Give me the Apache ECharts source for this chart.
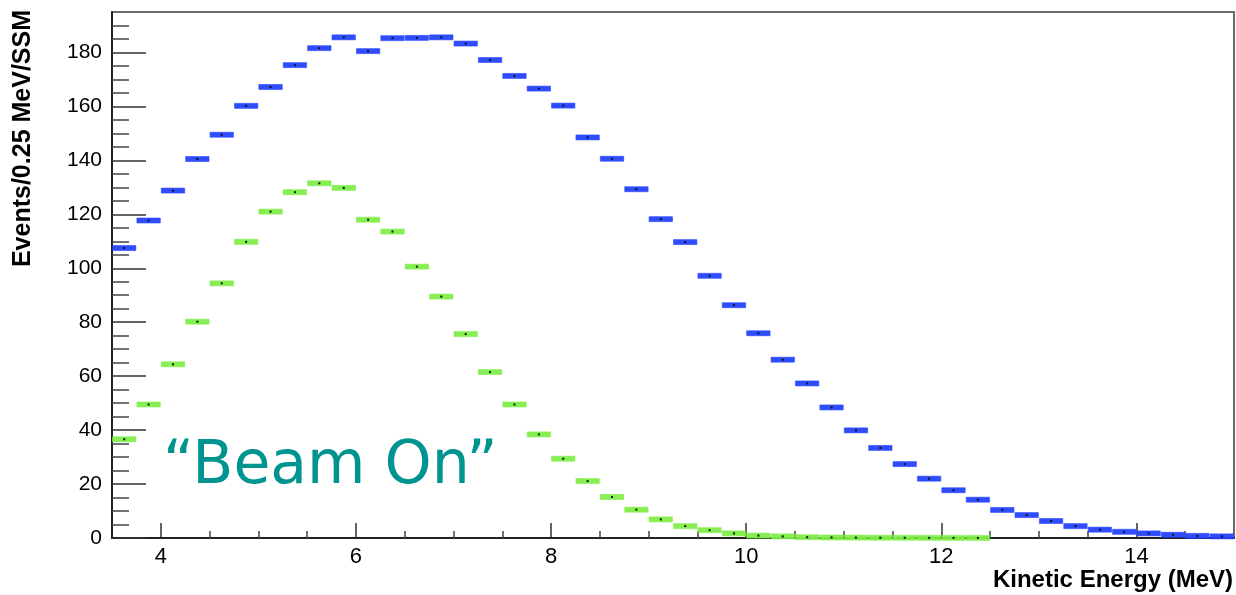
<!DOCTYPE html>
<html>
<head>
<meta charset="utf-8">
<script src="https://cdn.jsdelivr.net/npm/echarts@6/dist/echarts.min.js"></script>
<style>
html,body{margin:0;padding:0;background:#fff;}
#chart{width:1236px;height:595px;}
</style>
</head>
<body>
<div id="chart"></div>
<script>
// Bin low edges (0.25 MeV bins)
const binLow = [3.5,3.75,4.0,4.25,4.5,4.75,5.0,5.25,5.5,5.75,6.0,6.25,6.5,6.75,7.0,7.25,7.5,7.75,8.0,8.25,8.5,8.75,9.0,9.25,9.5,9.75,10.0,10.25,10.5,10.75,11.0,11.25,11.5,11.75,12.0,12.25,12.5,12.75,13.0,13.25,13.5,13.75,14.0,14.25,14.5,14.75];
const binWidth = 0.25;

// Blue histogram (total)
const blueValues = [107.5,117.7,128.8,140.5,149.5,160.2,167.2,175.3,181.6,185.6,180.5,185.3,185.4,185.6,183.3,177.2,171.3,166.6,160.3,148.5,140.6,129.3,118.2,109.7,97.2,86.3,75.9,66.1,57.3,48.4,39.9,33.4,27.4,22.0,17.7,14.2,10.4,8.5,6.3,4.4,3.1,2.3,1.7,1.2,0.8,0.6];

// Green histogram ("Beam On")
const greenValues = [36.6,49.5,64.4,80.2,94.4,109.8,121.0,128.2,131.5,129.8,118.0,113.6,100.6,89.5,75.6,61.5,49.5,38.4,29.4,21.1,15.2,10.5,6.9,4.4,2.9,1.7,0.9,0.6,0.3,0.2,0.15,0.1,0.08,0.05,0.03,0.02];

const xMajorTicks = [4,6,8,10,12,14];
const xMinorTicks = [4.5,5,5.5,6.5,7,7.5,8.5,9,9.5,10.5,11,11.5,12.5,13,13.5,14.5];
const yMajorTicks = [0,20,40,60,80,100,120,140,160,180];
const yMinorTicks = [5,10,15,25,30,35,45,50,55,65,70,75,85,90,95,105,110,115,125,130,135,145,150,155,165,170,175,185,190];

const xTitle = 'Kinetic Energy (MeV)';
const yTitle = 'Events/0.25 MeV/SSM';
const annotation = '\u201CBeam On\u201D';

function toData(vals) {
  return vals.map((v, i) => [binLow[i], binLow[i] + binWidth, v]);
}

function makeRender(color) {
  return function (params, api) {
    const lo = api.value(0), hi = api.value(1), v = api.value(2);
    const p0 = api.coord([lo, v]);
    const p1 = api.coord([hi, v]);
    const h = 5;
    const cx = (p0[0] + p1[0]) / 2;
    return {
      type: 'group',
      children: [
        { type: 'rect', shape: { x: p0[0] + 0.5, y: p0[1] - h / 2, width: p1[0] - p0[0] - 1, height: h },
          style: { fill: color, stroke: color, lineWidth: 0.6, opacity: 0.95 } },
        { type: 'rect', shape: { x: cx - 1, y: p0[1] - 1, width: 2, height: 2 }, style: { fill: '#111' } }
      ]
    };
  };
}

const font = 'Liberation Sans, Arial, Helvetica, sans-serif';
const chart = echarts.init(document.getElementById('chart'), null, { renderer: 'canvas' });

const option = {
  backgroundColor: '#ffffff',
  animation: false,
  grid: { left: 112, right: 1, top: 12, bottom: 57, show: true, borderColor: '#6a6a6a', borderWidth: 2, backgroundColor: 'transparent' },
  xAxis: [
    {
      type: 'value', min: 3.5, max: 15,
      axisLine: { show: true, onZero: false, lineStyle: { color: '#222', width: 2 } },
      axisTick: { show: true, inside: true, length: 15, customValues: xMajorTicks, lineStyle: { color: '#333', width: 1.5 } },
      axisLabel: { show: true, customValues: xMajorTicks, fontSize: 22, color: '#000', margin: 8, fontFamily: font },
      splitLine: { show: false },
      name: xTitle, nameLocation: 'end', nameGap: 0,
      nameTextStyle: { fontSize: 24, fontWeight: 'bold', color: '#000', fontFamily: font, align: 'right', verticalAlign: 'top', padding: [30, 1, 0, 0] }
    },
    {
      type: 'value', min: 3.5, max: 15, position: 'bottom',
      axisLine: { show: false },
      axisTick: { show: true, inside: true, length: 7, customValues: xMinorTicks, lineStyle: { color: '#444', width: 1.5 } },
      axisLabel: { show: false },
      splitLine: { show: false }
    }
  ],
  yAxis: [
    {
      type: 'value', min: 0, max: 195,
      axisLine: { show: true, onZero: false, lineStyle: { color: '#222', width: 2 } },
      axisTick: { show: true, inside: true, length: 34, customValues: yMajorTicks, lineStyle: { color: '#333', width: 1.5 } },
      axisLabel: { show: true, customValues: yMajorTicks, fontSize: 21, color: '#000', margin: 10, fontFamily: font },
      splitLine: { show: false }
    },
    {
      type: 'value', min: 0, max: 195, position: 'left',
      axisLine: { show: false },
      axisTick: { show: true, inside: true, length: 17, customValues: yMinorTicks, lineStyle: { color: '#444', width: 1.5 } },
      axisLabel: { show: false },
      splitLine: { show: false }
    }
  ],
  series: [
    {
      type: 'custom', name: 'Total', xAxisIndex: 0, yAxisIndex: 0, clip: false, z: 3,
      renderItem: makeRender('#2443ff'),
      encode: { x: [0, 1], y: 2 },
      data: toData(blueValues)
    },
    {
      type: 'custom', name: 'Beam On', xAxisIndex: 0, yAxisIndex: 0, clip: false, z: 4,
      renderItem: makeRender('#80ee48'),
      encode: { x: [0, 1], y: 2 },
      data: toData(greenValues)
    }
  ],
  graphic: [
    {
      type: 'text', x: 23, y: 10, rotation: Math.PI / 2, z: 10,
      style: { text: yTitle, fontSize: 25, fontWeight: 'bold', fill: '#000', fontFamily: font, align: 'right', verticalAlign: 'middle' }
    },
    {
      type: 'text', x: 163, y: 467, z: 10,
      style: { text: annotation, fontSize: 60, fill: '#009490', fontFamily: 'DejaVu Sans, sans-serif', align: 'left', verticalAlign: 'middle' }
    }
  ]
};
chart.setOption(option);
</script>
</body>
</html>
